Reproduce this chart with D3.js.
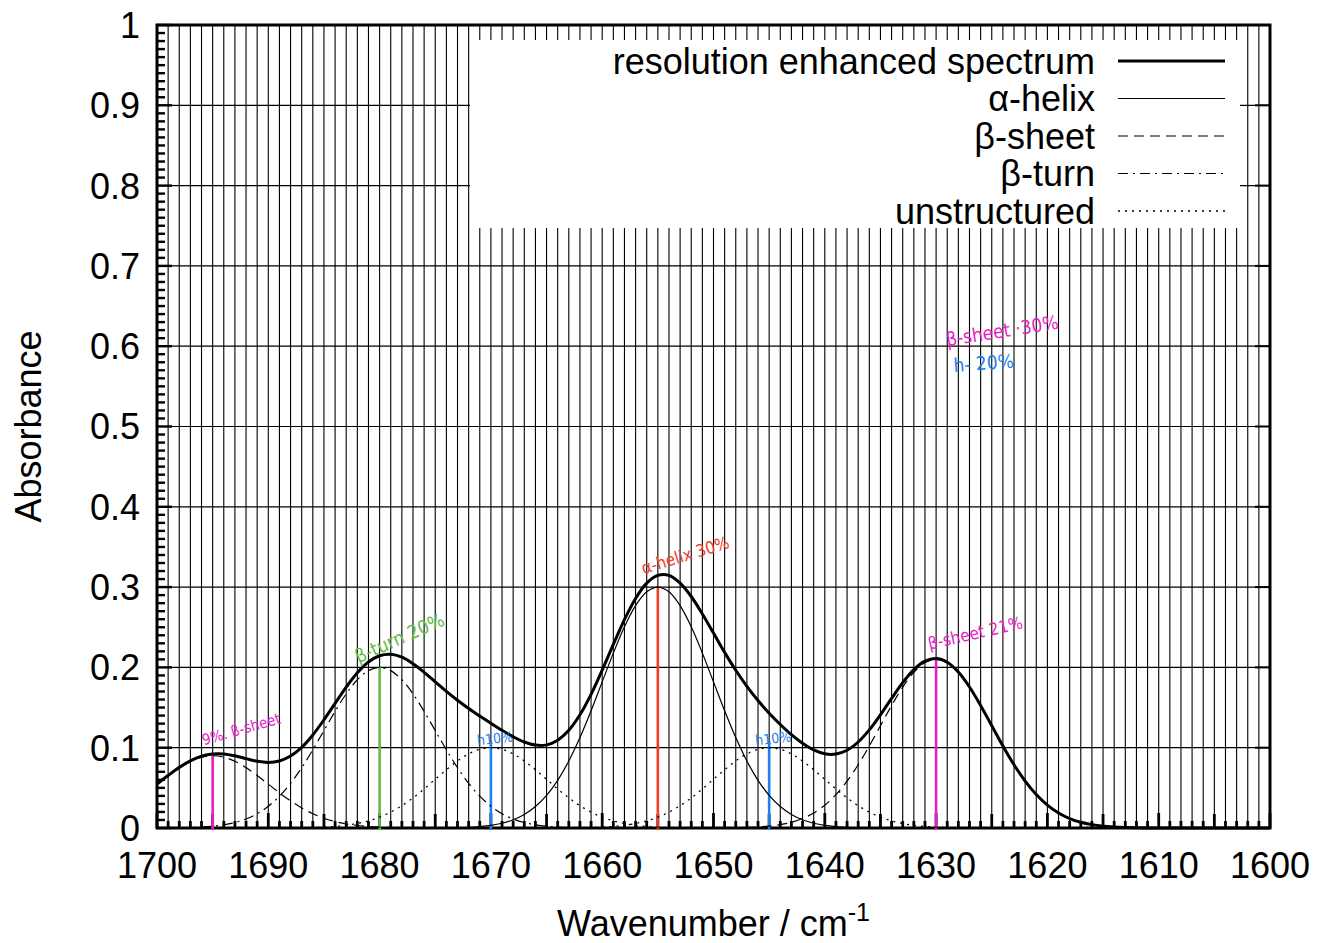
<!DOCTYPE html>
<html><head><meta charset="utf-8">
<script src="https://cdn.jsdelivr.net/npm/d3@7"></script>
<style>
html,body{margin:0;padding:0;background:#fff;}
svg{display:block;}
text{font-family:"Liberation Sans",Arial,Helvetica,sans-serif;fill:#000;}
.hand{font-family:"DejaVu Sans Condensed","DejaVu Sans",sans-serif;}
</style></head>
<body>
<svg id="chart" width="1317" height="943"></svg>
<script>
// ---------------- data ----------------
const xDomain = [1700, 1600];
const yDomain = [0, 1];
const xTickValues = [1700, 1690, 1680, 1670, 1660, 1650, 1640, 1630, 1620, 1610, 1600];
const yTickValues = [0, 0.1, 0.2, 0.3, 0.4, 0.5, 0.6, 0.7, 0.8, 0.9, 1];
const yTickLabels = ["0", "0.1", "0.2", "0.3", "0.4", "0.5", "0.6", "0.7", "0.8", "0.9", "1"];

// resolution enhanced spectrum, 1700 -> 1600 in steps of 1 cm-1
const totalStart = 1700;
const totalValues = [
 0.0547,0.0654,0.0755,0.0837,0.0894,0.0922,0.0922,0.0899,0.0864,0.0831,
 0.0817,0.0835,0.0896,0.1004,0.1159,0.1347,0.1552,0.1755,0.1933,0.2067,
 0.2145,0.2163,0.2127,0.2046,0.1939,0.1821,0.1702,0.1591,0.1488,0.1394,
 0.1304,0.1217,0.1137,0.1071,0.1033,0.1035,0.1094,0.1217,0.1410,0.1665,
 0.1966,0.2287,0.2596,0.2859,0.3050,0.3146,0.3146,0.3050,0.2883,0.2666,
 0.2428,0.2187,0.1964,0.1764,0.1587,0.1429,0.1289,0.1162,0.1055,0.0972,
 0.0924,0.0921,0.0968,0.1071,0.1222,0.1410,0.1614,0.1810,0.1973,0.2078,
 0.2111,0.2065,0.1942,0.1756,0.1526,0.1274,0.1022,0.0788,0.0584,0.0416,
 0.0284,0.0187,0.0118,0.0071,0.0042,0.0023,0.0013,0.0007,0.0003,0.0001,
 0.0001,0,0,0,0,0,0,0,0,0,0
];

// components (start wavenumber, values every 1 cm-1 going down)
const betaSheet1Start = 1700;
const betaSheet1Values = [0.0546,0.0653,0.0752,0.0831,0.0882,0.09,0.0882,0.0831,0.0752,0.0653,
 0.0546,0.0438,0.0338,0.0250,0.0178,0.0122,0.0080,0.0050,0.0031,0.0018,0.0010,0.0005,0.0003,0];

const betaTurnStart = 1700;
const betaTurnValues = [0.0001,0.0001,0.0003,0.0006,0.0012,0.0022,0.0040,0.0068,0.0112,0.0178,
 0.0271,0.0396,0.0556,0.0751,0.0974,0.1213,0.1452,0.1671,0.1846,0.1960,0.2,
 0.1960,0.1846,0.1671,0.1452,0.1213,0.0974,0.0751,0.0556,0.0396,0.0271,
 0.0178,0.0112,0.0068,0.0040,0.0022,0.0012,0.0006,0.0003,0.0001,0.0001];

const unstructured1Start = 1690;
const unstructured1Values = [0,0.0001,0.0002,0.0003,0.0006,0.0011,0.0020,0.0034,0.0056,0.0089,
 0.0135,0.0198,0.0278,0.0375,0.0487,0.0607,0.0726,0.0835,0.0923,0.0980,0.1,
 0.0980,0.0923,0.0835,0.0726,0.0607,0.0487,0.0375,0.0278,0.0198,0.0135,
 0.0089,0.0056,0.0034,0.0020,0.0011,0.0006,0.0003,0.0002,0.0001,0];

const alphaHelixStart = 1675;
const alphaHelixValues = [0.0001,0.0002,0.0005,0.0009,0.0018,0.0033,0.0059,0.0102,0.0168,0.0267,
 0.0406,0.0594,0.0834,0.1126,0.1460,0.1820,0.2178,0.2506,0.2769,0.2941,0.3,
 0.2941,0.2769,0.2506,0.2178,0.1820,0.1460,0.1126,0.0834,0.0594,0.0406,
 0.0267,0.0168,0.0102,0.0059,0.0033,0.0018,0.0009,0.0005,0.0002,0.0001];

const unstructured2Start = 1665;
const unstructured2Values = [0,0.0001,0.0002,0.0003,0.0006,0.0011,0.0020,0.0034,0.0056,0.0089,
 0.0135,0.0198,0.0278,0.0375,0.0487,0.0607,0.0726,0.0835,0.0923,0.0980,0.1,
 0.0980,0.0923,0.0835,0.0726,0.0607,0.0487,0.0375,0.0278,0.0198,0.0135,
 0.0089,0.0056,0.0034,0.0020,0.0011,0.0006,0.0003,0.0002,0.0001,0];

const betaSheet2Start = 1650;
const betaSheet2Values = [0.0001,0.0001,0.0003,0.0007,0.0013,0.0023,0.0042,0.0071,0.0118,0.0187,
 0.0284,0.0416,0.0584,0.0788,0.1022,0.1274,0.1525,0.1754,0.1939,0.2058,0.21,
 0.2058,0.1939,0.1754,0.1525,0.1274,0.1022,0.0788,0.0584,0.0416,0.0284,
 0.0187,0.0118,0.0071,0.0042,0.0023,0.0013,0.0007,0.0003,0.0001,0.0001];

// coloured peak markers
const markerPositions = [1695, 1680, 1670, 1655, 1645, 1630];
const markerHeights   = [0.092, 0.2, 0.108, 0.3, 0.108, 0.21];
const markerColors    = ["#e81ec8", "#66bb44", "#1a7ff0", "#f03c28", "#1a7ff0", "#e81ec8"];

// handwritten notes: text, x (cm-1), y (absorbance), rotation, colour, size
const noteTexts  = ["9%. β-sheet", "β-turn 20%", "h10%", "α-helix 30%", "h10%", "β-sheet 21%", "β-sheet ·30%", "h- 20%"];
const noteX      = [1695.8, 1681.9, 1671.2, 1656.3, 1646.2, 1630.6, 1629.0, 1628.4];
const noteY      = [0.103, 0.205, 0.103, 0.316, 0.103, 0.222, 0.600, 0.568];
const noteRot    = [-16, -24, -6, -17, -6, -13, -9, -4];
const noteColors = ["#e81ec8", "#66bb44", "#1a7ff0", "#f03c28", "#1a7ff0", "#e81ec8", "#e81ec8", "#1a7ff0"];
const noteSizes  = [15, 19, 14, 17, 14, 17, 19, 19];

const legendLabels = ["resolution enhanced spectrum", "α-helix", "β-sheet", "β-turn", "unstructured"];

// ---------------- drawing ----------------
const W = 1317, H = 943;
const m = {left: 157, right: 47, top: 25, bottom: 115};
const svg = d3.select("#chart");
const x = d3.scaleLinear().domain(xDomain).range([m.left, W - m.right]);
const y = d3.scaleLinear().domain(yDomain).range([H - m.bottom, m.top]);

const series = (start, vals) => vals.map((v, i) => ({w: start - i, a: v}));

// grid: vertical every 1 cm-1
const gridG = svg.append("g");
gridG.selectAll("line.v").data(d3.range(1600, 1701, 1)).join("line")
  .attr("x1", d => x(d)).attr("x2", d => x(d))
  .attr("y1", y(1)).attr("y2", y(0))
  .attr("stroke", "#000").attr("stroke-width", 1.1);
gridG.selectAll("line.h").data(yTickValues).join("line")
  .attr("x1", x(1700)).attr("x2", x(1600))
  .attr("y1", d => y(d)).attr("y2", d => y(d))
  .attr("stroke", "#000").attr("stroke-width", 1.2);

// legend background
svg.append("rect").attr("x", 470).attr("y", 40).attr("width", 770).attr("height", 188).attr("fill", "#fff");

// ticks
const tickG = svg.append("g");
const yMinor = d3.range(0, 101, 1).map(d => d / 100);
tickG.selectAll("line.ym").data(yMinor).join("line")
  .attr("x1", x(1700)).attr("x2", d => x(1700) + (Math.round(d * 100) % 10 === 0 ? 15 : 8))
  .attr("y1", d => y(d)).attr("y2", d => y(d))
  .attr("stroke", "#000").attr("stroke-width", 2.4);
tickG.selectAll("line.yr").data(yTickValues).join("line")
  .attr("x1", x(1600)).attr("x2", x(1600) - 15)
  .attr("y1", d => y(d)).attr("y2", d => y(d))
  .attr("stroke", "#000").attr("stroke-width", 2);
tickG.selectAll("line.xm").data(d3.range(1600, 1701, 1)).join("line")
  .attr("x1", d => x(d)).attr("x2", d => x(d))
  .attr("y1", y(0)).attr("y2", d => y(0) - (d % 10 === 0 ? 15 : d % 5 === 0 ? 14 : 7))
  .attr("stroke", "#000").attr("stroke-width", 2.8);

// frame
svg.append("rect").attr("x", x(1700)).attr("y", y(1))
  .attr("width", x(1600) - x(1700)).attr("height", y(0) - y(1))
  .attr("fill", "none").attr("stroke", "#000").attr("stroke-width", 3);

// tick labels
const fs = 36;
svg.append("g").selectAll("text").data(yTickValues).join("text")
  .attr("x", x(1700) - 17).attr("y", d => y(d)).attr("dy", "0.36em")
  .attr("text-anchor", "end").attr("font-size", fs)
  .text((d, i) => yTickLabels[i]);
svg.append("g").selectAll("text").data(xTickValues).join("text")
  .attr("x", d => x(d)).attr("y", y(0) + 50)
  .attr("text-anchor", "middle").attr("font-size", fs)
  .text(d => d);

// axis titles
svg.append("text").attr("transform", `translate(41,${(y(0) + y(1)) / 2}) rotate(-90)`)
  .attr("text-anchor", "middle").attr("font-size", fs).text("Absorbance");
const xt = svg.append("text").attr("x", (x(1700) + x(1600)) / 2).attr("y", 936)
  .attr("text-anchor", "middle").attr("font-size", fs);
xt.append("tspan").text("Wavenumber / cm");
xt.append("tspan").attr("dy", -15).attr("font-size", 25).text("-1");

// markers
svg.append("g").selectAll("line").data(markerPositions).join("line")
  .attr("x1", d => x(d)).attr("x2", d => x(d))
  .attr("y1", y(0) + 2).attr("y2", (d, i) => y(markerHeights[i]))
  .attr("stroke", (d, i) => markerColors[i]).attr("stroke-width", 2.6);

// curves
const line = d3.line().x(d => x(d.w)).y(d => y(d.a)).curve(d3.curveCatmullRom.alpha(0.5));
const styles = {
  total:  {w: 3, dash: null},
  alpha:  {w: 1.2, dash: null},
  sheet:  {w: 1.2, dash: "10,6"},
  turn:   {w: 1.2, dash: "10,5,2,5"},
  unstr:  {w: 1.3, dash: "2,5"}
};
const curves = [
  [series(betaSheet1Start, betaSheet1Values), styles.sheet],
  [series(betaTurnStart, betaTurnValues), styles.turn],
  [series(unstructured1Start, unstructured1Values), styles.unstr],
  [series(alphaHelixStart, alphaHelixValues), styles.alpha],
  [series(unstructured2Start, unstructured2Values), styles.unstr],
  [series(betaSheet2Start, betaSheet2Values), styles.sheet],
  [series(totalStart, totalValues), styles.total]
];
curves.forEach(([data, st]) => {
  svg.append("path").datum(data).attr("d", line)
    .attr("fill", "none").attr("stroke", "#000")
    .attr("stroke-width", st.w).attr("stroke-dasharray", st.dash)
    .attr("stroke-linejoin", "round");
});

// handwritten notes
svg.append("g").selectAll("text").data(noteTexts).join("text")
  .attr("class", "hand")
  .attr("transform", (d, i) => `translate(${x(noteX[i])},${y(noteY[i])}) rotate(${noteRot[i]})`)
  .attr("font-size", (d, i) => noteSizes[i])
  .style("fill", (d, i) => noteColors[i])
  .text(d => d);

// legend
const legendStyles = [styles.total, styles.alpha, styles.sheet, styles.turn, styles.unstr];
const lg = svg.append("g");
legendLabels.forEach((lab, i) => {
  const ry = 61 + i * 37.5;
  lg.append("text").attr("x", 1095).attr("y", ry).attr("dy", "0.36em")
    .attr("text-anchor", "end").attr("font-size", fs).text(lab);
  lg.append("line").attr("x1", 1118).attr("x2", 1225).attr("y1", ry).attr("y2", ry)
    .attr("stroke", "#000").attr("stroke-width", legendStyles[i].w)
    .attr("stroke-dasharray", legendStyles[i].dash);
});
</script>
</body></html>
